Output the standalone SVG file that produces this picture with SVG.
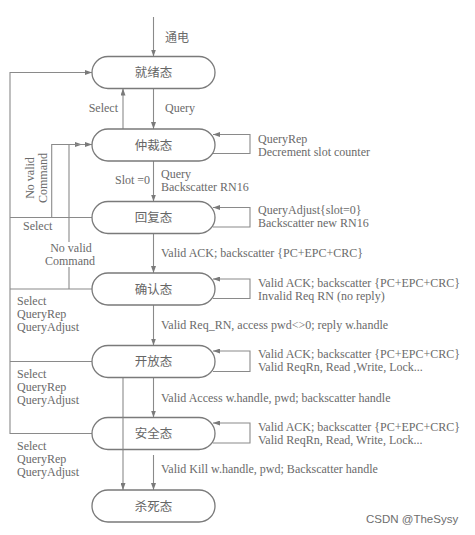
<svg xmlns="http://www.w3.org/2000/svg" width="475" height="535" viewBox="0 0 475 535">
<style>
.n{fill:#fff;stroke:#7a7a7a;stroke-width:1.3}
.nt{font-family:"Noto Sans CJK SC",sans-serif;font-size:12.5px;fill:#666;text-anchor:middle}
.c{fill:none;stroke:#8a8a8a;stroke-width:1.1}
.t{font-family:"Liberation Serif",serif;font-size:12px;fill:#6a6a6a}
.m{text-anchor:middle}
.e{text-anchor:end}
.cj{font-family:"Noto Sans CJK SC",sans-serif;font-size:12px;fill:#6a6a6a}
.wm{font-family:"Liberation Sans",sans-serif;font-size:11.5px;fill:#6e6e6e}
</style>
<defs>
<marker id="a" markerUnits="userSpaceOnUse" markerWidth="7" markerHeight="5" refX="7" refY="2.5" orient="auto">
<path d="M0,0 L7,2.5 L0,5 z" fill="#7a7a7a"/>
</marker>
</defs>
<rect width="475" height="535" fill="#fff"/>
<g id="connectors">
<path class="c" d="M153.5,17 V56.5" marker-end="url(#a)"/>
<path class="c" d="M153.5,88.5 V129" marker-end="url(#a)"/>
<path class="c" d="M123,129 V88.5" marker-end="url(#a)"/>
<path class="c" d="M213,153.5 H250 V134.5 H213" marker-end="url(#a)"/>
<path class="c" d="M153.5,161 V201.5" marker-end="url(#a)"/>
<path class="c" d="M213,227 H250 V207.5 H213" marker-end="url(#a)"/>
<path class="c" d="M153.5,233.5 V273" marker-end="url(#a)"/>
<path class="c" d="M213,298.5 H250 V279 H213" marker-end="url(#a)"/>
<path class="c" d="M153.5,305 V345.5" marker-end="url(#a)"/>
<path class="c" d="M213,371.5 H250 V351 H213" marker-end="url(#a)"/>
<path class="c" d="M153.5,377.5 V417.5" marker-end="url(#a)"/>
<path class="c" d="M213,443 H250 V423 H213" marker-end="url(#a)"/>
<path class="c" d="M153.5,455 V490" marker-end="url(#a)"/>
<path class="c" d="M123,377.5 V490" marker-end="url(#a)"/>
<path class="c" d="M92,433.5 H10 V72.5 H92" marker-end="url(#a)"/>
<path class="c" d="M92,217.5 H10"/>
<path class="c" d="M92,289 H10"/>
<path class="c" d="M92,361.5 H10"/>
<path class="c" d="M51.7,217.5 V144.5 H82" marker-end="url(#a)"/>
<path class="c" d="M69,289 V267"/>
<path class="c" d="M69,242 V144.5 H92" marker-end="url(#a)"/>
</g>
<g id="n1"><rect class="n" x="92" y="56.5" width="123" height="32" rx="16"/><text class="nt" x="153.5" y="77">就绪态</text></g>
<g id="n2"><rect class="n" x="92" y="129" width="123" height="32" rx="16"/><text class="nt" x="153.5" y="149.5">仲裁态</text></g>
<g id="n3"><rect class="n" x="92" y="201.5" width="123" height="32" rx="16"/><text class="nt" x="153.5" y="222">回复态</text></g>
<g id="n4"><rect class="n" x="92" y="273" width="123" height="32" rx="16"/><text class="nt" x="153.5" y="293.5">确认态</text></g>
<g id="n5"><rect class="n" x="92" y="345.5" width="123" height="32" rx="16"/><text class="nt" x="153.5" y="366">开放态</text></g>
<g id="n6"><rect class="n" x="92" y="417.5" width="123" height="32" rx="16"/><text class="nt" x="153.5" y="438">安全态</text></g>
<path class="c" d="M123,417.5 V449.5"/>
<g id="n7"><rect class="n" x="92" y="490" width="123" height="32" rx="16"/><text class="nt" x="153.5" y="510.5">杀死态</text></g>
<g id="labels">
<text class="cj" x="165" y="42">通电</text>
<text class="t e" x="118" y="112">Select</text>
<text class="t" x="165" y="112">Query</text>
<text class="t" x="258" y="142.5">QueryRep</text>
<text class="t" x="258" y="155.5">Decrement slot counter</text>
<text class="t" x="115" y="184">Slot =0</text>
<text class="t" x="161" y="177.5">Query</text>
<text class="t" x="161" y="190.5">Backscatter RN16</text>
<text class="t" x="258" y="214">QueryAdjust{slot=0}</text>
<text class="t" x="258" y="227">Backscatter new RN16</text>
<text class="t" transform="translate(34,178) rotate(-90)" text-anchor="middle">No valid</text>
<text class="t" transform="translate(46.5,178) rotate(-90)" text-anchor="middle">Command</text>
<text class="t" x="23" y="230">Select</text>
<text class="t m" x="71" y="252">No valid</text>
<text class="t m" x="70" y="265">Command</text>
<text class="t" x="161" y="256.5">Valid ACK; backscatter {PC+EPC+CRC}</text>
<text class="t" x="258" y="287">Valid ACK; backscatter {PC+EPC+CRC}</text>
<text class="t" x="258" y="300">Invalid Req RN (no reply)</text>
<text class="t" x="17" y="305">Select</text>
<text class="t" x="17" y="318">QueryRep</text>
<text class="t" x="17" y="331">QueryAdjust</text>
<text class="t" x="161" y="328.5">Valid Req_RN, access pwd&lt;&gt;0; reply w.handle</text>
<text class="t" x="258" y="358">Valid ACK; backscatter {PC+EPC+CRC}</text>
<text class="t" x="258" y="371">Valid ReqRn, Read ,Write, Lock...</text>
<text class="t" x="17" y="377.5">Select</text>
<text class="t" x="17" y="390.5">QueryRep</text>
<text class="t" x="17" y="403.5">QueryAdjust</text>
<text class="t" x="161" y="401.5">Valid Access w.handle, pwd; backscatter handle</text>
<text class="t" x="258" y="430.5">Valid ACK; backscatter {PC+EPC+CRC}</text>
<text class="t" x="258" y="443.5">Valid ReqRn, Read, Write, Lock...</text>
<text class="t" x="17" y="450">Select</text>
<text class="t" x="17" y="463">QueryRep</text>
<text class="t" x="17" y="476">QueryAdjust</text>
<text class="t" x="161" y="473">Valid Kill w.handle, pwd; Backscatter handle</text>
<text class="wm" x="366" y="523">CSDN @TheSysy</text>
</g>
</svg>
